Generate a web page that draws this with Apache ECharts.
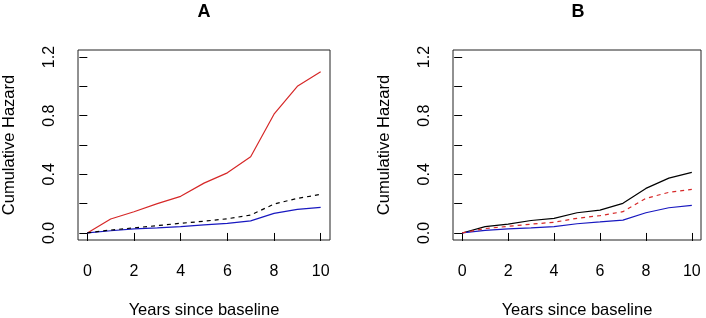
<!DOCTYPE html>
<html>
<head>
<meta charset="utf-8">
<script src="https://cdn.jsdelivr.net/npm/echarts@6/dist/echarts.min.js"></script>
<style>
  html, body { margin: 0; padding: 0; background: #fff; }
  #chart { width: 706px; height: 318px; }
</style>
</head>
<body>
<div id="chart"></div>
<script>
// values
const years = [0, 1, 2, 3, 4, 5, 6, 7, 8, 9, 10]

// panel A
const aRed = [0, 0.095, 0.145, 0.2, 0.25, 0.34, 0.41, 0.52, 0.81, 1.0, 1.1]
const aBlackDash = [0, 0.02, 0.035, 0.05, 0.066, 0.08, 0.097, 0.122, 0.197, 0.236, 0.263]
const aBlue = [0, 0.015, 0.028, 0.035, 0.043, 0.055, 0.066, 0.082, 0.134, 0.161, 0.175]

// panel B
const bBlack = [0, 0.043, 0.06, 0.085, 0.1, 0.138, 0.156, 0.202, 0.304, 0.374, 0.413]
const bRedDash = [0, 0.03, 0.045, 0.06, 0.073, 0.1, 0.118, 0.145, 0.236, 0.277, 0.297]
const bBlue = [0, 0.018, 0.028, 0.035, 0.043, 0.063, 0.075, 0.088, 0.138, 0.172, 0.188]

const xTicks = [0, 2, 4, 6, 8, 10]
const yTicks = [0, 0.2, 0.4, 0.6, 0.8, 1.0, 1.2]
const yTickLabels = [0, 0.4, 0.8, 1.2]

const font = 'Liberation Sans, Arial, Helvetica, sans-serif'
const RED = '#d62828'
const BLUE = '#1818c0'
const BLACK = '#000'

function pairs(arr) {
  return years.map((x, i) => [x, arr[i]])
}

function xAxisFor(idx) {
  return {
    gridIndex: idx,
    type: 'value',
    min: -0.4,
    max: 10.4,
    name: 'Years since baseline',
    nameLocation: 'middle',
    nameGap: 62,
    nameTextStyle: { fontFamily: font, fontSize: 16.5, color: '#000' },
    splitLine: { show: false },
    axisLine: { show: false },
    axisTick: { show: true, customValues: xTicks, length: 8, lineStyle: { color: '#000' } },
    axisLabel: {
      customValues: xTicks,
      margin: 24,
      fontFamily: font,
      fontSize: 16,
      color: '#000'
    }
  }
}

function yAxisFor(idx) {
  return {
    gridIndex: idx,
    type: 'value',
    min: -0.048,
    max: 1.248,
    name: 'Cumulative Hazard',
    nameLocation: 'middle',
    nameGap: 60,
    nameTextStyle: { fontFamily: font, fontSize: 16.5, color: '#000' },
    splitLine: { show: false },
    axisLine: { show: false },
    axisTick: { show: true, customValues: yTicks, length: 8, lineStyle: { color: '#000' } },
    axisLabel: {
      customValues: yTickLabels,
      rotate: 90,
      margin: 20,
      fontFamily: font,
      fontSize: 16,
      color: '#000',
      formatter: v => v.toFixed(1)
    }
  }
}

function line(name, arr, color, idx, dashed) {
  return {
    name: name,
    type: 'line',
    xAxisIndex: idx,
    yAxisIndex: idx,
    data: pairs(arr),
    showSymbol: false,
    lineStyle: { color: color, width: 1.2, type: dashed ? [4, 4] : 'solid' },
    z: dashed ? 3 : 2
  }
}

const gridBase = {
  top: 50,
  bottom: 78,
  show: true,
  borderColor: '#222',
  borderWidth: 1,
  backgroundColor: 'transparent',
  containLabel: false,
  outerBoundsMode: 'none'
}

const chart = echarts.init(document.getElementById('chart'), null, { renderer: 'canvas' })
chart.setOption({
  animation: false,
  backgroundColor: '#fff',
  title: [
    { text: 'A', left: 204, top: 3, padding: 0, textAlign: 'center', textStyle: { fontFamily: font, fontSize: 18, fontWeight: 'bold', color: '#000' } },
    { text: 'B', left: 578, top: 3, padding: 0, textAlign: 'center', textStyle: { fontFamily: font, fontSize: 18, fontWeight: 'bold', color: '#000' } }
  ],
  grid: [
    Object.assign({ left: 78, right: 376 }, gridBase),
    Object.assign({ left: 453, right: 5 }, gridBase)
  ],
  xAxis: [xAxisFor(0), xAxisFor(1)],
  yAxis: [yAxisFor(0), yAxisFor(1)],
  series: [
    line('A red', aRed, RED, 0, false),
    line('A black', aBlackDash, BLACK, 0, true),
    line('A blue', aBlue, BLUE, 0, false),
    line('B black', bBlack, BLACK, 1, false),
    line('B red', bRedDash, RED, 1, true),
    line('B blue', bBlue, BLUE, 1, false)
  ]
})
</script>
</body>
</html>
